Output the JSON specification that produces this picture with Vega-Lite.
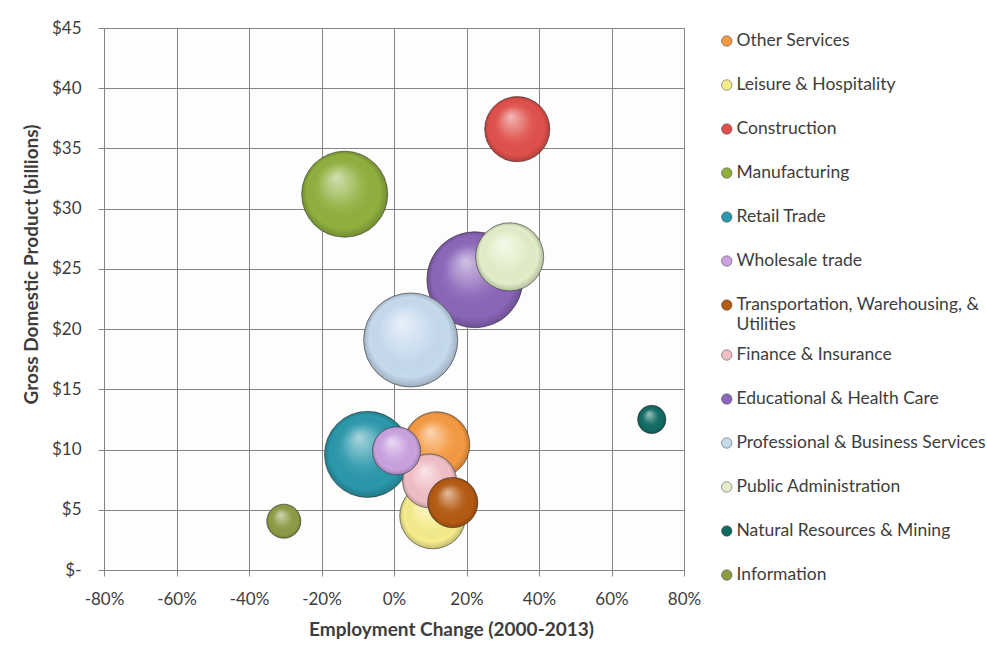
{
  "$schema": "https://vega.github.io/schema/vega-lite/v6.json",
  "width": 580,
  "height": 542,
  "autosize": {"type": "none"},
  "padding": {"left": 104, "top": 28, "right": 303, "bottom": 75},
  "background": "white",
  "data": {
    "values": [
      {"industry": "Manufacturing", "employment_change": -13.6, "gdp": 31.2, "employment": 185},
      {"industry": "Construction", "employment_change": 34.0, "gdp": 36.6, "employment": 106},
      {"industry": "Educational & Health Care", "employment_change": 22.3, "gdp": 24.1, "employment": 230},
      {"industry": "Public Administration", "employment_change": 31.9, "gdp": 26.0, "employment": 116},
      {"industry": "Professional & Business Services", "employment_change": 4.6, "gdp": 19.1, "employment": 221},
      {"industry": "Retail Trade", "employment_change": -7.3, "gdp": 9.6, "employment": 185},
      {"industry": "Other Services", "employment_change": 11.8, "gdp": 10.4, "employment": 109},
      {"industry": "Leisure & Hospitality", "employment_change": 10.7, "gdp": 4.5, "employment": 109},
      {"industry": "Finance & Insurance", "employment_change": 9.8, "gdp": 7.4, "employment": 73},
      {"industry": "Wholesale trade", "employment_change": 0.7, "gdp": 9.9, "employment": 58},
      {"industry": "Transportation, Warehousing, & Utilities", "employment_change": 16.2, "gdp": 5.6, "employment": 63},
      {"industry": "Information", "employment_change": -30.4, "gdp": 4.05, "employment": 29},
      {"industry": "Natural Resources & Mining", "employment_change": 71.1, "gdp": 12.5, "employment": 20}
    ]
  },
  "encoding": {
    "x": {
      "field": "employment_change", "type": "quantitative",
      "scale": {"domain": [-80, 80], "nice": false, "zero": false},
      "axis": {
        "values": [-80, -60, -40, -20, 0, 20, 40, 60, 80],
        "labelExpr": "datum.value + '%'",
        "labelFlush": false,
        "title": "Employment Change (2000-2013)",
        "labelPadding": 15,
        "titleX": 347,
        "titlePadding": 13
      }
    },
    "y": {
      "field": "gdp", "type": "quantitative",
      "scale": {"domain": [0, 45], "nice": false, "zero": true},
      "axis": {
        "values": [0, 5, 10, 15, 20, 25, 30, 35, 40, 45],
        "labelExpr": "datum.value == 0 ? '$-\u00a0\u00a0\u00a0\u00a0' : '$' + datum.value",
        "labelFlush": false,
        "title": "Gross Domestic Product (billions)",
        "labelPadding": 17,
        "titleY": 236,
        "titlePadding": 10
      }
    },
    "size": {
      "field": "employment", "type": "quantitative",
      "scale": {"domain": [0, 230], "range": [0, 9216], "zero": true},
      "legend": null
    }
  },
  "layer": [
    {"transform": [{"filter": {"field": "industry", "equal": "Manufacturing"}}],
     "layer": [
      {"mark": {"type": "circle", "opacity": 1, "stroke": "#3c3c3c", "strokeWidth": 1, "strokeOpacity": 0.6},
       "encoding": {"color": {"field": "industry", "type": "nominal",
         "scale": {
           "domain": ["Other Services", "Leisure & Hospitality", "Construction", "Manufacturing", "Retail Trade", "Wholesale trade", "Transportation, Warehousing, & Utilities", "Finance & Insurance", "Educational & Health Care", "Professional & Business Services", "Public Administration", "Natural Resources & Mining", "Information"],
           "range": ["#F59A42", "#F5EC8C", "#E0504B", "#8FB03E", "#2B98AB", "#C9A2DF", "#B45A12", "#F1BEC6", "#8B66B9", "#C6DAEE", "#E2EEC9", "#0F6A63", "#8D9B45"]
         },
         "legend": {"title": null, "labelExpr": "datum.label == 'Transportation, Warehousing, & Utilities' ? ['Transportation, Warehousing, &', 'Utilities'] : datum.label"}}}},
      {"mark": {"type": "circle", "opacity": 1, "fill": {"gradient": "radial", "x1": 0.4, "y1": 0.3, "r1": 0, "x2": 0.5, "y2": 0.5, "r2": 0.5, "stops": [{"offset": 0, "color": "rgba(255,255,255,0.6)"}, {"offset": 0.5, "color": "rgba(255,255,255,0.08)"}, {"offset": 0.85, "color": "rgba(0,0,0,0)"}, {"offset": 1, "color": "rgba(0,0,0,0.2)"}]}}}
     ]},
    {"transform": [{"filter": {"field": "industry", "equal": "Construction"}}],
     "layer": [
      {"mark": {"type": "circle", "opacity": 1, "stroke": "#3c3c3c", "strokeWidth": 1, "strokeOpacity": 0.6},
       "encoding": {"color": {"field": "industry", "type": "nominal"}}},
      {"mark": {"type": "circle", "opacity": 1, "fill": {"gradient": "radial", "x1": 0.4, "y1": 0.3, "r1": 0, "x2": 0.5, "y2": 0.5, "r2": 0.5, "stops": [{"offset": 0, "color": "rgba(255,255,255,0.6)"}, {"offset": 0.5, "color": "rgba(255,255,255,0.08)"}, {"offset": 0.85, "color": "rgba(0,0,0,0)"}, {"offset": 1, "color": "rgba(0,0,0,0.2)"}]}}}
     ]},
    {"transform": [{"filter": {"field": "industry", "equal": "Educational & Health Care"}}],
     "layer": [
      {"mark": {"type": "circle", "opacity": 1, "stroke": "#3c3c3c", "strokeWidth": 1, "strokeOpacity": 0.6},
       "encoding": {"color": {"field": "industry", "type": "nominal"}}},
      {"mark": {"type": "circle", "opacity": 1, "fill": {"gradient": "radial", "x1": 0.4, "y1": 0.3, "r1": 0, "x2": 0.5, "y2": 0.5, "r2": 0.5, "stops": [{"offset": 0, "color": "rgba(255,255,255,0.6)"}, {"offset": 0.5, "color": "rgba(255,255,255,0.08)"}, {"offset": 0.85, "color": "rgba(0,0,0,0)"}, {"offset": 1, "color": "rgba(0,0,0,0.2)"}]}}}
     ]},
    {"transform": [{"filter": {"field": "industry", "equal": "Public Administration"}}],
     "layer": [
      {"mark": {"type": "circle", "opacity": 1, "stroke": "#3c3c3c", "strokeWidth": 1, "strokeOpacity": 0.6},
       "encoding": {"color": {"field": "industry", "type": "nominal"}}},
      {"mark": {"type": "circle", "opacity": 1, "fill": {"gradient": "radial", "x1": 0.4, "y1": 0.3, "r1": 0, "x2": 0.5, "y2": 0.5, "r2": 0.5, "stops": [{"offset": 0, "color": "rgba(255,255,255,0.6)"}, {"offset": 0.5, "color": "rgba(255,255,255,0.08)"}, {"offset": 0.85, "color": "rgba(0,0,0,0)"}, {"offset": 1, "color": "rgba(0,0,0,0.2)"}]}}}
     ]},
    {"transform": [{"filter": {"field": "industry", "equal": "Professional & Business Services"}}],
     "layer": [
      {"mark": {"type": "circle", "opacity": 1, "stroke": "#3c3c3c", "strokeWidth": 1, "strokeOpacity": 0.6},
       "encoding": {"color": {"field": "industry", "type": "nominal"}}},
      {"mark": {"type": "circle", "opacity": 1, "fill": {"gradient": "radial", "x1": 0.4, "y1": 0.3, "r1": 0, "x2": 0.5, "y2": 0.5, "r2": 0.5, "stops": [{"offset": 0, "color": "rgba(255,255,255,0.6)"}, {"offset": 0.5, "color": "rgba(255,255,255,0.08)"}, {"offset": 0.85, "color": "rgba(0,0,0,0)"}, {"offset": 1, "color": "rgba(0,0,0,0.2)"}]}}}
     ]},
    {"transform": [{"filter": {"field": "industry", "equal": "Retail Trade"}}],
     "layer": [
      {"mark": {"type": "circle", "opacity": 1, "stroke": "#3c3c3c", "strokeWidth": 1, "strokeOpacity": 0.6},
       "encoding": {"color": {"field": "industry", "type": "nominal"}}},
      {"mark": {"type": "circle", "opacity": 1, "fill": {"gradient": "radial", "x1": 0.4, "y1": 0.3, "r1": 0, "x2": 0.5, "y2": 0.5, "r2": 0.5, "stops": [{"offset": 0, "color": "rgba(255,255,255,0.6)"}, {"offset": 0.5, "color": "rgba(255,255,255,0.08)"}, {"offset": 0.85, "color": "rgba(0,0,0,0)"}, {"offset": 1, "color": "rgba(0,0,0,0.2)"}]}}}
     ]},
    {"transform": [{"filter": {"field": "industry", "equal": "Other Services"}}],
     "layer": [
      {"mark": {"type": "circle", "opacity": 1, "stroke": "#3c3c3c", "strokeWidth": 1, "strokeOpacity": 0.6},
       "encoding": {"color": {"field": "industry", "type": "nominal"}}},
      {"mark": {"type": "circle", "opacity": 1, "fill": {"gradient": "radial", "x1": 0.4, "y1": 0.3, "r1": 0, "x2": 0.5, "y2": 0.5, "r2": 0.5, "stops": [{"offset": 0, "color": "rgba(255,255,255,0.6)"}, {"offset": 0.5, "color": "rgba(255,255,255,0.08)"}, {"offset": 0.85, "color": "rgba(0,0,0,0)"}, {"offset": 1, "color": "rgba(0,0,0,0.2)"}]}}}
     ]},
    {"transform": [{"filter": {"field": "industry", "equal": "Leisure & Hospitality"}}],
     "layer": [
      {"mark": {"type": "circle", "opacity": 1, "stroke": "#3c3c3c", "strokeWidth": 1, "strokeOpacity": 0.6},
       "encoding": {"color": {"field": "industry", "type": "nominal"}}},
      {"mark": {"type": "circle", "opacity": 1, "fill": {"gradient": "radial", "x1": 0.4, "y1": 0.3, "r1": 0, "x2": 0.5, "y2": 0.5, "r2": 0.5, "stops": [{"offset": 0, "color": "rgba(255,255,255,0.6)"}, {"offset": 0.5, "color": "rgba(255,255,255,0.08)"}, {"offset": 0.85, "color": "rgba(0,0,0,0)"}, {"offset": 1, "color": "rgba(0,0,0,0.2)"}]}}}
     ]},
    {"transform": [{"filter": {"field": "industry", "equal": "Finance & Insurance"}}],
     "layer": [
      {"mark": {"type": "circle", "opacity": 1, "stroke": "#3c3c3c", "strokeWidth": 1, "strokeOpacity": 0.6},
       "encoding": {"color": {"field": "industry", "type": "nominal"}}},
      {"mark": {"type": "circle", "opacity": 1, "fill": {"gradient": "radial", "x1": 0.4, "y1": 0.3, "r1": 0, "x2": 0.5, "y2": 0.5, "r2": 0.5, "stops": [{"offset": 0, "color": "rgba(255,255,255,0.6)"}, {"offset": 0.5, "color": "rgba(255,255,255,0.08)"}, {"offset": 0.85, "color": "rgba(0,0,0,0)"}, {"offset": 1, "color": "rgba(0,0,0,0.2)"}]}}}
     ]},
    {"transform": [{"filter": {"field": "industry", "equal": "Wholesale trade"}}],
     "layer": [
      {"mark": {"type": "circle", "opacity": 1, "stroke": "#3c3c3c", "strokeWidth": 1, "strokeOpacity": 0.6},
       "encoding": {"color": {"field": "industry", "type": "nominal"}}},
      {"mark": {"type": "circle", "opacity": 1, "fill": {"gradient": "radial", "x1": 0.4, "y1": 0.3, "r1": 0, "x2": 0.5, "y2": 0.5, "r2": 0.5, "stops": [{"offset": 0, "color": "rgba(255,255,255,0.6)"}, {"offset": 0.5, "color": "rgba(255,255,255,0.08)"}, {"offset": 0.85, "color": "rgba(0,0,0,0)"}, {"offset": 1, "color": "rgba(0,0,0,0.2)"}]}}}
     ]},
    {"transform": [{"filter": {"field": "industry", "equal": "Transportation, Warehousing, & Utilities"}}],
     "layer": [
      {"mark": {"type": "circle", "opacity": 1, "stroke": "#3c3c3c", "strokeWidth": 1, "strokeOpacity": 0.6},
       "encoding": {"color": {"field": "industry", "type": "nominal"}}},
      {"mark": {"type": "circle", "opacity": 1, "fill": {"gradient": "radial", "x1": 0.4, "y1": 0.3, "r1": 0, "x2": 0.5, "y2": 0.5, "r2": 0.5, "stops": [{"offset": 0, "color": "rgba(255,255,255,0.6)"}, {"offset": 0.5, "color": "rgba(255,255,255,0.08)"}, {"offset": 0.85, "color": "rgba(0,0,0,0)"}, {"offset": 1, "color": "rgba(0,0,0,0.2)"}]}}}
     ]},
    {"transform": [{"filter": {"field": "industry", "equal": "Information"}}],
     "layer": [
      {"mark": {"type": "circle", "opacity": 1, "stroke": "#3c3c3c", "strokeWidth": 1, "strokeOpacity": 0.6},
       "encoding": {"color": {"field": "industry", "type": "nominal"}}},
      {"mark": {"type": "circle", "opacity": 1, "fill": {"gradient": "radial", "x1": 0.4, "y1": 0.3, "r1": 0, "x2": 0.5, "y2": 0.5, "r2": 0.5, "stops": [{"offset": 0, "color": "rgba(255,255,255,0.6)"}, {"offset": 0.5, "color": "rgba(255,255,255,0.08)"}, {"offset": 0.85, "color": "rgba(0,0,0,0)"}, {"offset": 1, "color": "rgba(0,0,0,0.2)"}]}}}
     ]},
    {"transform": [{"filter": {"field": "industry", "equal": "Natural Resources & Mining"}}],
     "layer": [
      {"mark": {"type": "circle", "opacity": 1, "stroke": "#3c3c3c", "strokeWidth": 1, "strokeOpacity": 0.6},
       "encoding": {"color": {"field": "industry", "type": "nominal"}}},
      {"mark": {"type": "circle", "opacity": 1, "fill": {"gradient": "radial", "x1": 0.4, "y1": 0.3, "r1": 0, "x2": 0.5, "y2": 0.5, "r2": 0.5, "stops": [{"offset": 0, "color": "rgba(255,255,255,0.6)"}, {"offset": 0.5, "color": "rgba(255,255,255,0.08)"}, {"offset": 0.85, "color": "rgba(0,0,0,0)"}, {"offset": 1, "color": "rgba(0,0,0,0.2)"}]}}}
     ]}
  ],
  "config": {
    "font": "Lato",
    "view": {"stroke": "#8c8c8c", "fill": "#fdfdfd"},
    "axis": {
      "labelFont": "Lato", "labelFontSize": 17, "labelColor": "#3d3d3d",
      "titleFont": "Lato", "titleFontSize": 19, "titleFontWeight": "bold", "titleColor": "#3d3d3d",
      "gridColor": "#858585", "gridOpacity": 1, "domainColor": "#858585", "tickColor": "#858585", "tickSize": 6
    },
    "legend": {
      "orient": "right", "offset": 42.5, "padding": -9,
      "symbolType": "circle", "symbolSize": 110, "symbolStrokeWidth": 0.5,
      "labelFont": "Lato", "labelFontSize": 17.5, "labelColor": "#3d3d3d", "labelLimit": 300, "labelOffset": 1,
      "clipHeight": 44,
      "rowPadding": 0
    }
  }
}
